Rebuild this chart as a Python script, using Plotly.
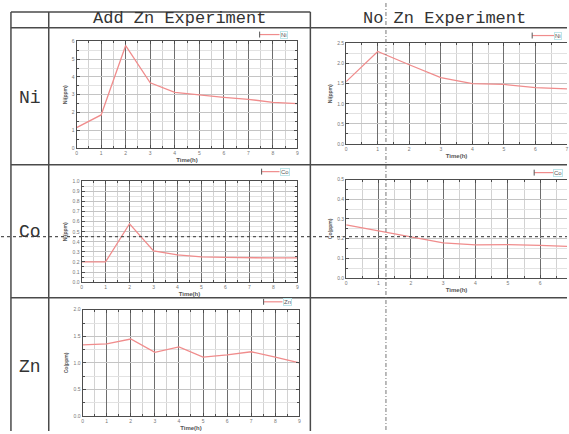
import plotly.graph_objects as go

W, H = 569, 434

# ---------------- data ----------------
hours = [0, 1, 2, 3, 4, 5, 6, 7, 8, 9]
hours_no_zn = [0, 1, 2, 3, 4, 5, 6, 7]

ni_add_zn = [1.15, 1.86, 5.77, 3.67, 3.13, 2.98, 2.85, 2.74, 2.57, 2.50]
co_add_zn = [0.20, 0.20, 0.58, 0.31, 0.27, 0.25, 0.245, 0.24, 0.24, 0.24]
zn_add_zn = [1.34, 1.36, 1.45, 1.20, 1.30, 1.11, 1.15, 1.21, 1.11, 1.00]

ni_no_zn = [1.55, 2.30, 1.97, 1.65, 1.50, 1.48, 1.40, 1.37]
co_no_zn = [0.27, 0.24, 0.207, 0.179, 0.169, 0.17, 0.166, 0.16]

col_titles = ["Add Zn Experiment", "No Zn Experiment"]
row_titles = ["Ni", "Co", "Zn"]
# order: Ni(add), Co(add), Zn(add), Ni(no), Co(no)
y_titles = ["Ni(ppm)", "Ni(ppm)", "Co(ppm)", "Ni(ppm)", "Co(ppm)"]
legend_names = ["Ni", "Co", "Zn", "Ni", "Co"]
x_title = "Time(h)"


def X(px):
    return px / W


def Y(py):
    return 1 - py / H


LINE = "#f08c8c"
FRAME = "#4d4d4d"
fig = go.Figure()

panels = [
    (hours, ni_add_zn, 76, 298, 39, 147, [0, 9], [0, 6], 1, 0.5, False, ".0f"),
    (hours, co_add_zn, 81, 298, 181, 283, [0, 9], [0, 1.0], 0.1, 0.05, False, ".1f"),
    (hours, zn_add_zn, 82, 300, 311, 419, [0, 9], [0, 2.0], 0.5, 0.25, False, ".1f"),
    (hours_no_zn, ni_no_zn, 347, 569, 41, 143, [0, 7.0], [0, 2.5], 0.5, 0.25, True, ".1f"),
    (hours_no_zn, co_no_zn, 347, 569, 179, 279, [0, 6.83], [0, 0.5], 0.1, 0.05, True, ".1f"),
]

layout = dict(
    width=W, height=H,
    margin=dict(l=0, r=0, t=0, b=0),
    paper_bgcolor="white", plot_bgcolor="white",
    showlegend=False,
)

for i, (xs, ys, l, r, t, b, xr, yr, ydt, ymin, cut, fmt) in enumerate(panels):
    n = "" if i == 0 else str(i + 1)
    fig.add_trace(go.Scatter(x=xs, y=ys, mode="lines",
                             line=dict(color=LINE, width=1.3),
                             xaxis="x" + n, yaxis="y" + n,
                             name=legend_names[i], hoverinfo="skip"))
    layout["xaxis" + n] = dict(
        domain=[X(l), X(r)], range=xr, anchor="y" + n,
        dtick=1, tick0=0, showgrid=True, gridcolor="#6e6e6e", gridwidth=1,
        griddash="solid",
        minor=dict(dtick=0.5, tick0=0, showgrid=True, gridcolor="#d2d2d2",
                   griddash="solid", ticks="inside", ticklen=2, tickcolor=FRAME),
        showline=True, linecolor=FRAME, linewidth=1,
        mirror="allticks", ticks="inside", ticklen=3, tickcolor=FRAME,
        tickfont=dict(size=5, color="#777777", family="Liberation Sans"),
        title=dict(text="<b>" + x_title + "</b>", standoff=2,
                   font=dict(size=6, color="#555555", family="Liberation Sans")),
        zeroline=False, fixedrange=True,
    )
    layout["yaxis" + n] = dict(
        domain=[Y(b), Y(t)], range=yr, anchor="x" + n,
        dtick=ydt, tick0=0, tickformat=fmt,
        showgrid=True, gridcolor="#c4c4c4", gridwidth=1, griddash="solid",
        minor=dict(dtick=ymin, tick0=0, showgrid=True, gridcolor="#e2e2e2",
                   griddash="solid", ticks="inside", ticklen=2, tickcolor=FRAME),
        showline=True, linecolor=FRAME, linewidth=1,
        mirror=False if cut else "allticks", ticks="inside", ticklen=3,
        tickcolor=FRAME,
        tickfont=dict(size=5, color="#777777", family="Liberation Sans"),
        title=dict(text="<b>" + y_titles[i] + "</b>", standoff=4,
                   font=dict(size=5, color="#555555", family="Liberation Sans")),
        zeroline=False, fixedrange=True,
    )

fig.update_layout(**layout)

shapes = []
annotations = []

TBL = "#4a4a4a"


def hline(x0, x1, y, w=1.5, color=TBL, dash="solid"):
    shapes.append(dict(type="line", xref="paper", yref="paper",
                       x0=X(x0), x1=X(x1), y0=Y(y), y1=Y(y),
                       line=dict(color=color, width=w, dash=dash)))


def vline(x, y0, y1, w=1.5, color=TBL, dash="solid"):
    shapes.append(dict(type="line", xref="paper", yref="paper",
                       x0=X(x), x1=X(x), y0=Y(y0), y1=Y(y1),
                       line=dict(color=color, width=w, dash=dash)))


hline(10, 311, 9)
hline(10, 569, 25)
hline(10, 569, 164)
hline(10, 569, 299)
vline(10, 9, 434)
vline(48, 9, 434)
vline(311, 9, 434)

# dotted / dashed guide lines
hline(0, 569, 237, w=1.2, color="#555555", dash="dot")
vline(387, 0, 434, w=0.9, color="#666666", dash="4px,2px,1px,2px")

# column / row titles
for txt, cx in zip(col_titles, [179.5, 445.5]):
    annotations.append(dict(text=txt, x=X(cx), y=Y(16), xref="paper", yref="paper",
                            xanchor="center", yanchor="middle", showarrow=False,
                            font=dict(size=17, family="Liberation Mono", color="#333333")))
for txt, yy in zip(row_titles, [96, 232, 369]):
    annotations.append(dict(text=txt, x=X(29), y=Y(yy), xref="paper", yref="paper",
                            xanchor="center", yanchor="middle", showarrow=False,
                            font=dict(size=18, family="Liberation Mono", color="#333333")))

# legends (line sample + label)
legend_pos = [(260, 280, 32), (262, 280, 171), (264, 283, 303), (534, 556, 33), (536, 555, 172)]
for (x0, x1, yy), name in zip(legend_pos, legend_names):
    shapes.append(dict(type="line", xref="paper", yref="paper", x0=X(x0), x1=X(x1),
                       y0=Y(yy), y1=Y(yy), line=dict(color=LINE, width=1.2)))
    shapes.append(dict(type="line", xref="paper", yref="paper", x0=X(x0), x1=X(x0),
                       y0=Y(yy - 3), y1=Y(yy + 3), line=dict(color="#555555", width=1)))
    annotations.append(dict(text=name, x=X(x1), y=Y(yy), xref="paper", yref="paper",
                            xanchor="left", yanchor="middle", showarrow=False, borderpad=0,
                            bordercolor="#bfe6ea", borderwidth=1,
                            font=dict(size=6, family="Liberation Sans", color="#555555")))

fig.update_layout(shapes=shapes, annotations=annotations)
fig.write_html(
    "out.html",
    config={"displayModeBar": False},
    post_script="document.body.style.margin='0';document.body.style.overflow='hidden';",
)
